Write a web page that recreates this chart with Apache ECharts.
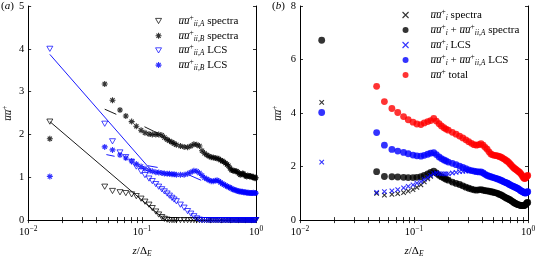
<!DOCTYPE html>
<html><head><meta charset="utf-8">
<script src="https://cdn.jsdelivr.net/npm/echarts@6/dist/echarts.min.js"></script>
<style>html,body{margin:0;padding:0;background:#fff}#c{width:539px;height:263px}</style>
</head><body><div id="c"></div>
<script>
// ---------- data ----------
const z = [0.0155, 0.047, 0.055, 0.064, 0.072, 0.081, 0.089, 0.098, 0.106, 0.115, 0.123, 0.132, 0.140, 0.149, 0.157, 0.166, 0.174, 0.183, 0.191, 0.200,
  0.217, 0.234, 0.251, 0.268, 0.285, 0.302, 0.319, 0.336, 0.353, 0.370, 0.387, 0.404, 0.421, 0.438, 0.455, 0.472, 0.489, 0.506, 0.523, 0.540,
  0.557, 0.574, 0.591, 0.608, 0.625, 0.642, 0.659, 0.676, 0.693, 0.710, 0.727, 0.744, 0.761, 0.778, 0.795, 0.812, 0.829, 0.846, 0.863, 0.880,
  0.897, 0.914, 0.931, 0.948, 0.965, 0.982, 0.995];

// panel (a)
const uuA_spectra = [2.3, 0.78, 0.68, 0.65, 0.63, 0.60, 0.56, 0.50, 0.43, 0.36, 0.28, 0.20, 0.13, 0.07, 0.03, 0.01, 0, 0, 0, 0,
  0, 0, 0, 0, 0, 0, 0, 0, 0, 0, 0, 0, 0, 0, 0, 0, 0, 0, 0, 0,
  0, 0, 0, 0, 0, 0, 0, 0, 0, 0, 0, 0, 0, 0, 0, 0, 0, 0, 0, 0,
  0, 0, 0, 0, 0, 0, 0];
const uuB_spectra = [1.9, 3.18, 2.8, 2.57, 2.43, 2.3, 2.19, 2.1, 2.04, 2.01, 2.0, 2.0, 2.0, 1.98, 1.93, 1.88, 1.85, 1.82, 1.79, 1.76,
  1.73, 1.71, 1.70, 1.73, 1.77, 1.76, 1.73, 1.62, 1.56, 1.52, 1.49, 1.47, 1.46, 1.45, 1.44, 1.43, 1.40, 1.38, 1.36, 1.33,
  1.30, 1.27, 1.21, 1.17, 1.16, 1.15, 1.14, 1.14, 1.12, 1.09, 1.06, 1.07, 1.09, 1.08, 1.05, 1.03, 1.02, 1.04, 1.03, 1.02,
  1.03, 1.01, 1.00, 1.01, 0.99, 0.98, 0.99];
const uuA_LCS = [4.0, 2.25, 1.84, 1.58, 1.47, 1.36, 1.25, 1.14, 1.05, 0.97, 0.91, 0.84, 0.78, 0.72, 0.67, 0.62, 0.57, 0.52, 0.48, 0.44,
  0.36, 0.29, 0.21, 0.15, 0.09, 0.04, 0.01, 0, 0, 0, 0, 0, 0, 0, 0, 0, 0, 0, 0, 0,
  0, 0, 0, 0, 0, 0, 0, 0, 0, 0, 0, 0, 0, 0, 0, 0, 0, 0, 0, 0,
  0, 0, 0, 0, 0, 0, 0];
const uuB_LCS = [1.02, 1.71, 1.64, 1.52, 1.45, 1.38, 1.31, 1.25, 1.20, 1.16, 1.14, 1.12, 1.11, 1.10, 1.09, 1.08, 1.08, 1.07, 1.07, 1.06,
  1.06, 1.06, 1.08, 1.12, 1.15, 1.14, 1.10, 1.04, 0.99, 0.96, 0.93, 0.91, 0.91, 0.92, 0.93, 0.91, 0.88, 0.85, 0.83, 0.81,
  0.79, 0.77, 0.76, 0.74, 0.72, 0.71, 0.70, 0.69, 0.68, 0.67, 0.67, 0.66, 0.66, 0.65, 0.65, 0.65, 0.64, 0.64, 0.64, 0.63,
  0.63, 0.63, 0.63, 0.64, 0.63, 0.63, 0.63];
// fitted lines, panel (a): [z, value] end points
const fitA_spectra = [[0.0155, 2.3], [0.16, 0]];
const fitA_LCS = [[0.0155, 3.87], [0.117, 1.2]];
const fitB_spectra_1 = [[0.047, 2.59], [0.0594, 2.47]];
const fitB_spectra_2 = [[0.105, 2.18], [0.137, 2.03]];
const fitB_LCS_1 = [[0.0486, 1.53], [0.0574, 1.49]];
const fitB_LCS_2 = [[0.112, 1.27], [0.137, 1.23]];
const fitB_LCS_3 = [[0.26, 1.05], [0.33, 0.93]];

// panel (b)
const uui_spectra = [4.4, 1.0, 0.93, 0.96, 0.99, 1.03, 1.08, 1.14, 1.22, 1.32, 1.43, 1.54, 1.63, 1.72, 1.74, 1.68, 1.62, 1.57, 1.53, 1.49,
  1.42, 1.37, 1.33, 1.28, 1.23, 1.19, 1.16, 1.13, 1.12, 1.13, 1.14, 1.12, 1.10, 1.09, 1.08, 1.06, 1.05, 1.03, 1.02, 1.00,
  0.97, 0.95, 0.92, 0.89, 0.86, 0.83, 0.81, 0.78, 0.76, 0.73, 0.70, 0.67, 0.64, 0.62, 0.60, 0.58, 0.57, 0.56, 0.55, 0.54,
  0.54, 0.54, 0.55, 0.57, 0.61, 0.65, 0.66];
const uuiA_spectra = [6.72, 1.81, 1.63, 1.62, 1.61, 1.60, 1.59, 1.59, 1.60, 1.62, 1.67, 1.73, 1.78, 1.83, 1.76, 1.68, 1.62, 1.57, 1.53, 1.49,
  1.42, 1.37, 1.33, 1.28, 1.23, 1.19, 1.16, 1.13, 1.12, 1.13, 1.14, 1.12, 1.10, 1.09, 1.08, 1.06, 1.05, 1.03, 1.02, 1.00,
  0.97, 0.95, 0.92, 0.89, 0.86, 0.83, 0.81, 0.78, 0.76, 0.73, 0.70, 0.67, 0.64, 0.62, 0.60, 0.58, 0.57, 0.56, 0.55, 0.54,
  0.54, 0.54, 0.55, 0.57, 0.61, 0.65, 0.66];
const uui_LCS = [2.17, 1.04, 1.06, 1.09, 1.14, 1.20, 1.26, 1.32, 1.38, 1.44, 1.52, 1.60, 1.67, 1.74, 1.76, 1.74, 1.73, 1.73, 1.73, 1.73,
  1.76, 1.78, 1.81, 1.82, 1.83, 1.84, 1.84, 1.83, 1.81, 1.80, 1.80, 1.76, 1.71, 1.67, 1.64, 1.62, 1.60, 1.58, 1.56, 1.54,
  1.52, 1.49, 1.47, 1.44, 1.42, 1.40, 1.38, 1.35, 1.32, 1.30, 1.28, 1.26, 1.24, 1.22, 1.20, 1.18, 1.16, 1.13, 1.10, 1.08,
  1.06, 1.04, 1.02, 1.01, 1.02, 1.05, 1.06];
const uuiA_LCS = [4.02, 3.27, 2.80, 2.64, 2.58, 2.53, 2.48, 2.43, 2.40, 2.39, 2.42, 2.46, 2.50, 2.52, 2.45, 2.36, 2.30, 2.25, 2.21, 2.17,
  2.12, 2.07, 2.02, 1.97, 1.92, 1.88, 1.85, 1.83, 1.81, 1.80, 1.80, 1.76, 1.71, 1.67, 1.64, 1.62, 1.60, 1.58, 1.56, 1.54,
  1.52, 1.49, 1.47, 1.44, 1.42, 1.40, 1.38, 1.35, 1.32, 1.30, 1.28, 1.26, 1.24, 1.22, 1.20, 1.18, 1.16, 1.13, 1.10, 1.08,
  1.06, 1.04, 1.02, 1.01, 1.02, 1.05, 1.06];
const uu_total = [null, 5.0, 4.43, 4.17, 4.02, 3.87, 3.75, 3.66, 3.59, 3.57, 3.63, 3.68, 3.72, 3.80, 3.70, 3.60, 3.52, 3.45, 3.40, 3.36,
  3.28, 3.21, 3.14, 3.07, 3.00, 2.93, 2.87, 2.82, 2.80, 2.82, 2.86, 2.80, 2.72, 2.65, 2.55, 2.47, 2.44, 2.42, 2.41, 2.40,
  2.38, 2.36, 2.33, 2.30, 2.27, 2.23, 2.20, 2.16, 2.11, 2.06, 2.01, 1.97, 1.93, 1.90, 1.87, 1.84, 1.81, 1.78, 1.74, 1.69,
  1.63, 1.58, 1.55, 1.56, 1.60, 1.65, 1.67];

// axis ticks
const xMajorTicks = [0.01, 0.1, 1];
const xAllTicks = [0.01, 0.02, 0.03, 0.04, 0.05, 0.06, 0.07, 0.08, 0.09, 0.1, 0.2, 0.3, 0.4, 0.5, 0.6, 0.7, 0.8, 0.9, 1];
const xTickLabels = ['10{sp|\u22122}', '10{sp|\u22121}', '10{sp|0}'];

// ---------- chart ----------
const F = 'Liberation Serif';
const OV = 'u\u0305u\u0305';
const RICH = {
  o: {fontFamily: F, fontStyle: 'italic', fontSize: 11, lineHeight: 14, color: '#000'},
  i: {fontFamily: F, fontStyle: 'italic', fontSize: 11, lineHeight: 14, color: '#000'},
  sp: {fontFamily: F, fontSize: 7.5, lineHeight: 8, verticalAlign: 'top', color: '#000'},
  sb: {fontFamily: F, fontStyle: 'italic', fontSize: 7.5, lineHeight: 8, verticalAlign: 'bottom', color: '#000'}
};
const LABELS = {
  aS: '{o|' + OV + '}{sp|+}{sb|ii,A} spectra',
  bS: '{o|' + OV + '}{sp|+}{sb|ii,B} spectra',
  aL: '{o|' + OV + '}{sp|+}{sb|ii,A} LCS',
  bL: '{o|' + OV + '}{sp|+}{sb|ii,B} LCS',
  iS: '{o|' + OV + '}{sp|+}{sb|i} spectra',
  iaS: '{o|' + OV + '}{sp|+}{sb|i} + {o|' + OV + '}{sp|+}{sb|ii,A} spectra',
  iL: '{o|' + OV + '}{sp|+}{sb|i} LCS',
  iaL: '{o|' + OV + '}{sp|+}{sb|i} + {o|' + OV + '}{sp|+}{sb|ii,A} LCS',
  tot: '{o|' + OV + '}{sp|+} total'
};
const TRI = 'path://M0,0L10,0L5,8.66Z';
const STAR = 'path://M5,0L5,10M0,5L10,5M1.5,1.5L8.5,8.5M8.5,1.5L1.5,8.5';
const CROSS = 'path://M0,0L10,10M10,0L0,10';

function styleFor(color, kind) {
  return kind === 'fill' ? {color: color, borderColor: color, borderWidth: 0}
    : kind === 'stroke' ? {color: color, borderColor: color, borderWidth: 1.1}
    : {color: 'rgba(0,0,0,0)', borderColor: color, borderWidth: 0.9};
}
function pairs(ys) {
  const out = [];
  for (let i = 0; i < z.length; i++) if (ys[i] !== null) out.push([z[i], ys[i]]);
  return out;
}
function scat(name, ys, g, symbol, size, color, kind) {
  return {
    name, type: 'scatter', xAxisIndex: g * 2, yAxisIndex: g * 2, data: pairs(ys),
    symbol, symbolSize: size, silent: true, itemStyle: styleFor(color, kind)
  };
}
function legItem(name, icon, color, kind) {
  return {name, icon, itemStyle: styleFor(color, kind)};
}
function line(d, color) {
  return {type: 'line', xAxisIndex: 0, yAxisIndex: 0, data: d, symbol: 'none', silent: true,
    lineStyle: {color, width: 0.9}, z: 3};
}
const xLabelFmt = v => {
  const k = xMajorTicks.findIndex(t => Math.abs(Math.log10(t) - Math.log10(v)) < 1e-6);
  return k >= 0 ? xTickLabels[k] : '';
};
function xAxes(g) {
  const base = {
    gridIndex: g, type: 'log', logBase: 10, min: 0.01, max: 1,
    axisLine: {lineStyle: {color: '#000', width: 1}},
    axisTick: {inside: true, length: 3, customValues: xAllTicks, lineStyle: {color: '#000', width: 0.8}},
    splitLine: {show: false}, minorSplitLine: {show: false}
  };
  return [
    Object.assign({}, base, {
      position: 'bottom',
      axisLabel: {customValues: xMajorTicks, formatter: xLabelFmt, margin: 5,
        fontFamily: F, fontSize: 10.5, lineHeight: 14, color: '#000', rich: {sp: {fontFamily: F, fontSize: 7.5, lineHeight: 8, verticalAlign: 'top', color: '#000'}}},
      name: '{i|z}/\u0394{sb|E}', nameLocation: 'middle', nameGap: 17,
      nameTextStyle: {fontFamily: F, fontSize: 11, lineHeight: 14, color: '#000', rich: RICH}
    }),
    Object.assign({}, base, {position: 'top', axisLabel: {show: false}})
  ];
}
function yAxes(g, max, interval, gap) {
  const base = {
    gridIndex: g, type: 'value', min: 0, max, interval,
    axisLine: {show: true, lineStyle: {color: '#000', width: 1}},
    axisTick: {show: true, inside: true, length: 3, lineStyle: {color: '#000', width: 0.8}},
    splitLine: {show: false}
  };
  return [
    Object.assign({}, base, {position: 'left',
      axisLabel: {margin: 4, fontFamily: F, fontSize: 10.5, color: '#000'},
      name: '{o|' + OV + '}{sp|+}', nameLocation: 'middle', nameGap: gap,
      nameTextStyle: {fontFamily: F, fontSize: 11, lineHeight: 14, color: '#000', rich: RICH}}),
    Object.assign({}, base, {position: 'right', axisLabel: {show: false}})
  ];
}

const chart = echarts.init(document.getElementById('c'), null, {renderer: 'canvas'});
chart.setOption({
  animation: false,
  backgroundColor: '#fff',
  grid: [
    {left: 26, top: 6, width: 230, height: 223},
    {left: 300, top: 6, width: 228, height: 224}
  ],
  xAxis: xAxes(0).concat(xAxes(1)),
  yAxis: yAxes(0, 5, 1, 11).concat(yAxes(1, 8, 2, 15)),
  legend: [
    {data: [legItem('aS', TRI, '#000', 'empty'), legItem('bS', STAR, '#000', 'stroke'),
            legItem('aL', TRI, '#0000ff', 'empty'), legItem('bL', STAR, '#0000ff', 'stroke')],
      orient: 'vertical', left: 155, top: 14, padding: 0,
      itemWidth: 6, itemHeight: 6, itemGap: 0.7, selectedMode: false, formatter: n => LABELS[n],
      textStyle: {fontFamily: F, fontSize: 11, lineHeight: 14, color: '#000', padding: [0, 0, 0, 12], rich: RICH}},
    {data: [legItem('iS', CROSS, '#000', 'stroke'), legItem('iaS', 'circle', '#000', 'fill'),
            legItem('iL', CROSS, '#0000ff', 'stroke'), legItem('iaL', 'circle', '#0000ff', 'fill'),
            legItem('tot', 'circle', '#ff0000', 'fill')],
      orient: 'vertical', left: 402, top: 8, padding: 0,
      itemWidth: 6, itemHeight: 6, itemGap: 1, selectedMode: false, formatter: n => LABELS[n],
      textStyle: {fontFamily: F, fontSize: 11, lineHeight: 14, color: '#000', padding: [0, 0, 0, 17], rich: RICH}}
  ],
  graphic: [
    {type: 'text', left: 1, top: 1, style: {text: '({i|a})', font: '11px ' + F, fill: '#000', rich: RICH}},
    {type: 'text', left: 272, top: 1, style: {text: '({i|b})', font: '11px ' + F, fill: '#000', rich: RICH}}
  ],
  series: [
    scat('aS', uuA_spectra, 0, TRI, [6, 5.2], '#000', 'empty'),
    scat('bS', uuB_spectra, 0, STAR, 6, '#000', 'stroke'),
    scat('aL', uuA_LCS, 0, TRI, [6, 5.2], '#0000ff', 'empty'),
    scat('bL', uuB_LCS, 0, STAR, 6, '#0000ff', 'stroke'),
    line(fitA_spectra, '#000'),
    line(fitA_LCS, '#0000ff'),
    line(fitB_spectra_1, '#000'),
    line(fitB_spectra_2, '#000'),
    line(fitB_LCS_1, '#0000ff'),
    line(fitB_LCS_2, '#0000ff'),
    line(fitB_LCS_3, '#0000ff'),
    scat('iS', uui_spectra, 1, CROSS, 4.5, '#000', 'stroke'),
    scat('iaS', uuiA_spectra, 1, 'circle', 6.8, '#000', 'fill'),
    scat('iL', uui_LCS, 1, CROSS, 4.5, '#0000ff', 'stroke'),
    scat('iaL', uuiA_LCS, 1, 'circle', 6.8, '#0000ff', 'fill'),
    scat('tot', uu_total, 1, 'circle', 6.8, '#ff0000', 'fill')
  ]
});
</script></body></html>
